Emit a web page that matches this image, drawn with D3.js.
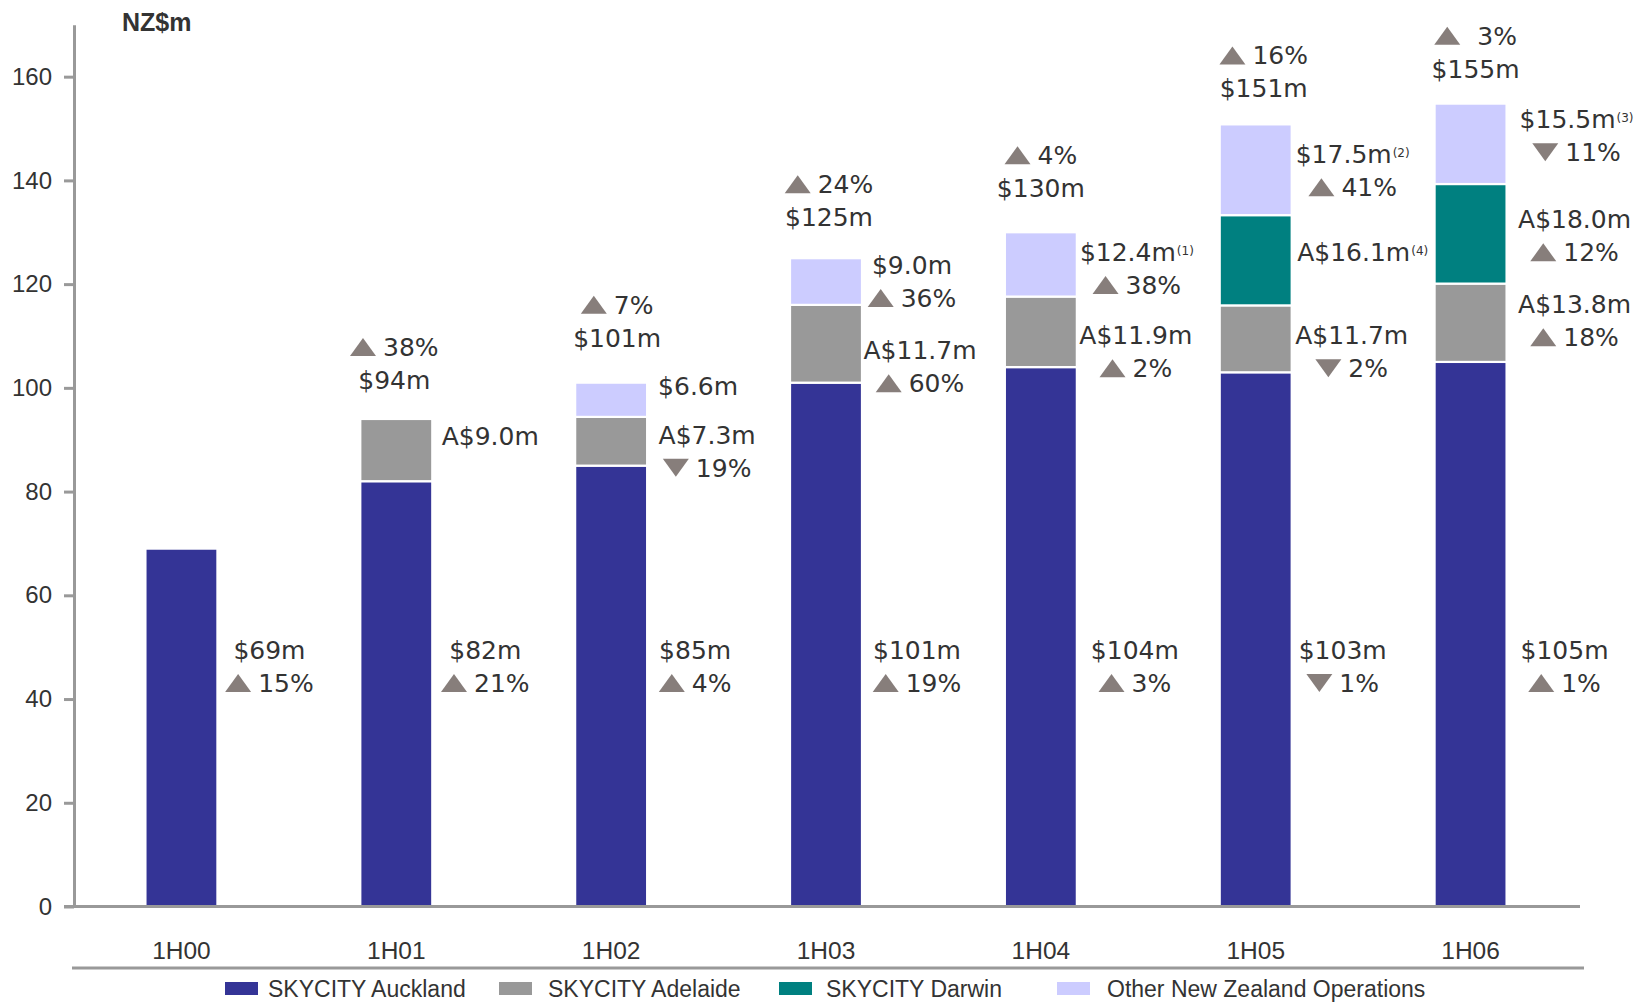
<!DOCTYPE html>
<html>
<head>
<meta charset="utf-8">
<script src="https://cdn.jsdelivr.net/npm/d3@7"></script>
<style>
  html, body { margin: 0; padding: 0; background: #fff; }
  svg { display: block; }
</style>
</head>
<body>
<svg id="chart" width="1638" height="1002"></svg>
<script>
// ---- data -------------------------------------------------------------
const categories = ["1H00", "1H01", "1H02", "1H03", "1H04", "1H05", "1H06"];
const seriesKeys = ["auckland", "adelaide", "darwin", "otherNZ"];
const seriesNames = ["SKYCITY Auckland", "SKYCITY Adelaide", "SKYCITY Darwin", "Other New Zealand Operations"];

// NZ$m contribution of each operation
const auckland = [69, 82, 85, 101, 104, 103, 105];
const adelaide = [0, 12.0, 9.4, 15.0, 13.6, 12.9, 15.1];
const darwin   = [0, 0, 0, 0, 0, 17.4, 19.2];
const otherNZ  = [0, 0, 6.6, 9.0, 12.4, 17.5, 15.5];

// labels and half-on-half changes (%; negative = decrease)
const totalText     = [null, "$94m", "$101m", "$125m", "$130m", "$151m", "$155m"];
const totalChange   = [null, 38, 7, 24, 4, 16, 3];
const aucklandText  = ["$69m", "$82m", "$85m", "$101m", "$104m", "$103m", "$105m"];
const aucklandChange = [15, 21, 4, 19, 3, -1, 1];
const adelaideText  = [null, "A$9.0m", "A$7.3m", "A$11.7m", "A$11.9m", "A$11.7m", "A$13.8m"];
const adelaideChange = [null, null, -19, 60, 2, -2, 18];
const darwinText    = [null, null, null, null, null, "A$16.1m", "A$18.0m"];
const darwinNote    = [null, null, null, null, null, "(4)", null];
const darwinChange  = [null, null, null, null, null, null, 12];
const otherText     = [null, null, "$6.6m", "$9.0m", "$12.4m", "$17.5m", "$15.5m"];
const otherNote     = [null, null, null, null, "(1)", "(2)", "(3)"];
const otherChange   = [null, null, null, 36, 38, 41, -11];

const yTicks = [0, 20, 40, 60, 80, 100, 120, 140, 160];

// ---- styling / layout -------------------------------------------------
const colors = { auckland: "#343496", adelaide: "#999999", darwin: "#008080", otherNZ: "#CCCCFF" };
const textColor = "#333333";
const arrowColor = "#877e7b";
const axisColor = "#999999";
const labelFont = "'DejaVu Sans', Verdana, sans-serif";
const axisFont = "'Liberation Sans', Arial, sans-serif";

// fine placement of annotation blocks [dx, dy] in px
const nudgeAuckland = [[-6, 0], [-5, 0], [-10, 0], [-3, 0], [0, 0], [-7, 0], [0, 0]];
const nudgeAdelaide = [null, [0, -14], [2, 10], [0, 23], [1, 20], [2, 13], [10, -2]];
const nudgeDarwin   = [null, null, null, null, null, [13, -8], [10, 2]];
const nudgeOther    = [null, null, [-7, -14], [-8, 0], [2, 4], [3, 1], [12, -8]];
const nudgeTotal    = [null, [-2, 1], [6, -5], [3, -1], [0, -4], [8, 4], [5, 5]];
// extra space between arrow and figure in the total rows
const totalArrowGap = [0, 0, 0, 0, 0, 0, 10];

const svg = d3.select("#chart");

const x = d3.scaleBand().domain(categories).range([74, 1578]).paddingInner(0.665).paddingOuter(0.3325);
const y = d3.scaleLinear().domain([0, 170]).range([906.5, 24.8]);

const rows = categories.map((c, i) => ({
  cat: c, auckland: auckland[i], adelaide: adelaide[i], darwin: darwin[i], otherNZ: otherNZ[i]
}));
const stacked = d3.stack().keys(seriesKeys)(rows);

// ---- bars -------------------------------------------------------------
const barLayer = svg.append("g");
stacked.forEach(layer => {
  barLayer.append("g")
    .attr("fill", colors[layer.key])
    .selectAll("rect")
    .data(layer.filter(d => d[1] - d[0] > 0))
    .join("rect")
    .attr("x", d => x(d.data.cat))
    .attr("width", x.bandwidth())
    .attr("y", d => y(d[1]))
    .attr("height", d => y(d[0]) - y(d[1]))
    .attr("stroke", "#ffffff")
    .attr("stroke-width", 2.2);
});

// ---- axes -------------------------------------------------------------
const yAxis = svg.append("g")
  .attr("transform", "translate(74,0)")
  .call(d3.axisLeft(y).tickValues(yTicks).tickSize(10).tickSizeOuter(0).tickPadding(12));
yAxis.select(".domain").attr("stroke", axisColor).attr("stroke-width", 3);
yAxis.selectAll(".tick line").attr("stroke", axisColor).attr("stroke-width", 3);
yAxis.selectAll(".tick text")
  .attr("fill", textColor).attr("font-family", axisFont).attr("font-size", 24);

// baseline under the bars
svg.append("line")
  .attr("x1", 64).attr("x2", 1580)
  .attr("y1", y(0)).attr("y2", y(0))
  .attr("stroke", axisColor).attr("stroke-width", 3);

const xAxis = svg.append("g")
  .attr("transform", `translate(0,${y(0)})`)
  .call(d3.axisBottom(x).tickSize(0).tickPadding(35));
xAxis.select(".domain").remove();
xAxis.selectAll(".tick text")
  .attr("fill", textColor).attr("font-family", axisFont).attr("font-size", 24.5);

// unit title
svg.append("text")
  .attr("x", 122).attr("y", 31)
  .attr("font-family", axisFont).attr("font-weight", "bold").attr("font-size", 25)
  .attr("fill", textColor)
  .text("NZ$m");

// ---- annotations -------------------------------------------------------
const ann = svg.append("g").attr("font-family", labelFont).attr("font-size", 25).attr("fill", textColor);
const lineGap = 33;
const triW = 26, triH = 18;

function arrowPath(x0, cy, up) {
  return up
    ? `M${x0},${cy + triH / 2}L${x0 + triW / 2},${cy - triH / 2}L${x0 + triW},${cy + triH / 2}Z`
    : `M${x0},${cy - triH / 2}L${x0 + triW / 2},${cy + triH / 2}L${x0 + triW},${cy - triH / 2}Z`;
}

// lines: array of {text, note} or {pct, gap}
function drawBlock(cx, cy, lines) {
  const n = lines.length;
  lines.forEach((ln, k) => {
    const ly = cy + (k - (n - 1) / 2) * lineGap;
    if (ln.pct !== undefined) {
      const t = ann.append("text").attr("y", ly).attr("dy", "0.36em").text(Math.abs(ln.pct) + "%");
      const tw = t.node().getComputedTextLength();
      const gap = 7 + (ln.gap || 0);
      const x0 = cx - (triW + gap + tw) / 2;
      ann.append("path").attr("d", arrowPath(x0, ly, ln.pct >= 0)).attr("fill", arrowColor);
      t.attr("x", x0 + triW + gap);
    } else {
      const t = ann.append("text").attr("x", cx).attr("y", ly).attr("dy", "0.36em").attr("text-anchor", "middle");
      t.append("tspan").text(ln.text);
      if (ln.note) {
        t.append("tspan").attr("font-size", 12).attr("dy", -6).attr("dx", 1).text(ln.note);
      }
    }
  });
}

function lines(text, note, change) {
  const out = [{ text: text, note: note }];
  if (change !== null && change !== undefined) out.push({ pct: change });
  return out;
}

const stackByKey = {};
stacked.forEach(s => { stackByKey[s.key] = s; });

categories.forEach((c, i) => {
  const barRight = x(c) + x.bandwidth();
  const cxBase = barRight + 58;
  const segCenter = key => (y(stackByKey[key][i][0]) + y(stackByKey[key][i][1])) / 2;

  // Auckland: fixed height beside the bar
  drawBlock(cxBase + nudgeAuckland[i][0], 666.5 + nudgeAuckland[i][1],
    lines(aucklandText[i], null, aucklandChange[i]));

  if (adelaideText[i]) {
    drawBlock(cxBase + nudgeAdelaide[i][0], segCenter("adelaide") + nudgeAdelaide[i][1],
      lines(adelaideText[i], null, adelaideChange[i]));
  }
  if (darwinText[i]) {
    drawBlock(cxBase + nudgeDarwin[i][0], segCenter("darwin") + nudgeDarwin[i][1],
      lines(darwinText[i], darwinNote[i], darwinChange[i]));
  }
  if (otherText[i]) {
    drawBlock(cxBase + nudgeOther[i][0], segCenter("otherNZ") + nudgeOther[i][1],
      lines(otherText[i], otherNote[i], otherChange[i]));
  }
  if (totalText[i]) {
    const top = y(stackByKey.otherNZ[i][1]);
    const valY = top - 40 + nudgeTotal[i][1];
    drawBlock(x(c) + x.bandwidth() / 2 + nudgeTotal[i][0], valY - lineGap / 2,
      [{ pct: totalChange[i], gap: totalArrowGap[i] }, { text: totalText[i] }]);
  }
});

// ---- legend -----------------------------------------------------------
svg.append("line")
  .attr("x1", 72).attr("x2", 1584).attr("y1", 968).attr("y2", 968)
  .attr("stroke", axisColor).attr("stroke-width", 3);

const legendSwatchX = [225, 499, 779, 1057];
const legendTextX = [268, 548, 826, 1107];
const legend = svg.append("g").attr("font-family", axisFont).attr("font-size", 23).attr("fill", textColor);
seriesKeys.forEach((k, j) => {
  legend.append("rect")
    .attr("x", legendSwatchX[j]).attr("y", 982)
    .attr("width", 33).attr("height", 13).attr("fill", colors[k]);
  legend.append("text")
    .attr("x", legendTextX[j]).attr("y", 988.5).attr("dy", "0.35em")
    .text(seriesNames[j]);
});
</script>
</body>
</html>
